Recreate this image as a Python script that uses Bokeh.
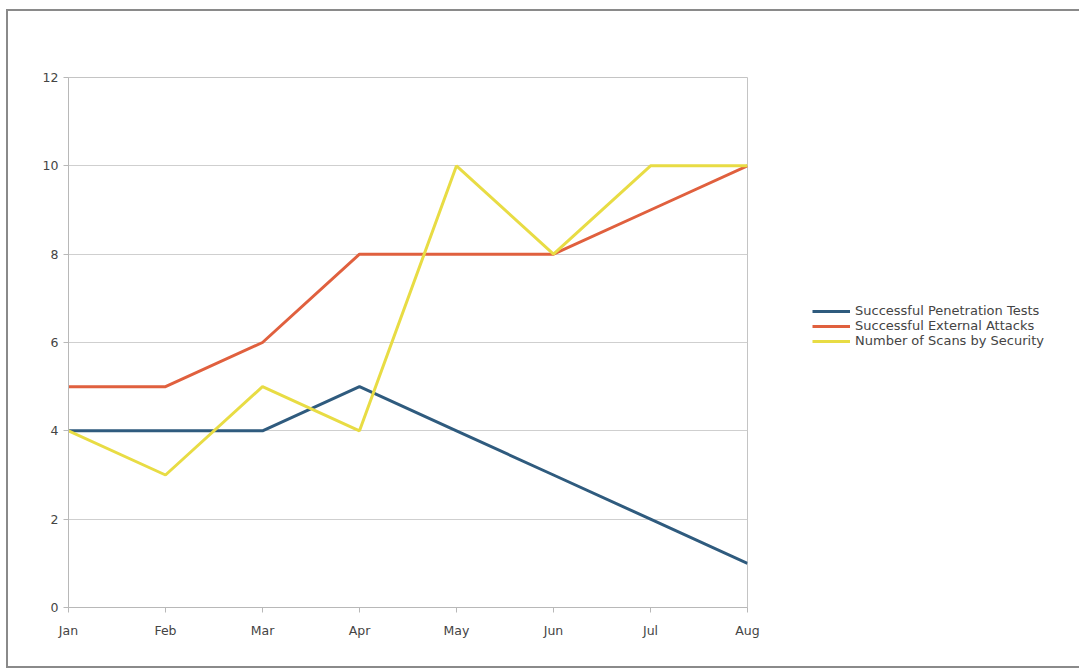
from bokeh.plotting import figure
from bokeh.models import Range1d, FixedTicker, Legend, LegendItem
from bokeh.embed import file_html
from bokeh.resources import INLINE

months = ["Jan", "Feb", "Mar", "Apr", "May", "Jun", "Jul", "Aug"]
pen_tests = [4, 4, 4, 5, 4, 3, 2, 1]
ext_attacks = [5, 5, 6, 8, 8, 8, 9, 10]
scans = [4, 3, 5, 4, 10, 8, 10, 10]
series_names = ["Successful Penetration Tests", "Successful External Attacks", "Number of Scans by Security"]
y_ticks = [0, 2, 4, 6, 8, 10, 12]

xs = list(range(len(months)))

p = figure(frame_width=679, frame_height=530,
           min_border_left=60, min_border_top=66, min_border_right=327, min_border_bottom=59,
           x_range=Range1d(0, len(months) - 1), y_range=Range1d(0, 12),
           output_backend="svg", toolbar_location=None)
p.styles = {"border": "2px solid #8a8a8a", "margin-left": "6px", "margin-top": "9px"}
p.background_fill_color = "white"
p.border_fill_color = "white"
p.outline_line_color = "#c4c4c4"
p.outline_line_width = 1

p.xaxis.ticker = FixedTicker(ticks=xs)
p.xaxis.major_label_overrides = {i: m for i, m in enumerate(months)}
p.yaxis.ticker = FixedTicker(ticks=y_ticks)
for ax in (p.xaxis, p.yaxis):
    ax.axis_line_color = "#b8b8b8"
    ax.major_tick_line_color = "#b8b8b8"
    ax.major_tick_in = 0
    ax.major_tick_out = 5
    ax.minor_tick_line_color = None
    ax.major_label_text_font = "DejaVu Sans"
    ax.major_label_text_font_size = "12.5px"
    ax.major_label_text_color = "#444444"
p.xaxis.major_label_standoff = 10
p.yaxis.major_label_standoff = 5

p.xgrid.grid_line_color = None
p.ygrid.grid_line_color = "#cfcfcf"
p.ygrid.grid_line_width = 1.2

colors = ["#2f5b7e", "#e0603e", "#e8dc44"]
renderers = []
for data, c in zip([pen_tests, ext_attacks, scans], colors):
    r = p.line(xs, data, line_color=c, line_width=3)
    renderers.append(r)

legend = Legend(items=[LegendItem(label=n, renderers=[r]) for n, r in zip(series_names, renderers)],
                location=(65, 259))
legend.background_fill_alpha = 0
legend.border_line_color = None
legend.padding = 0
legend.margin = 0
legend.spacing = 0
legend.glyph_width = 38
legend.glyph_height = 14
legend.label_height = 14
legend.label_standoff = 5
legend.label_text_font = "DejaVu Sans"
legend.label_text_font_size = "13px"
legend.label_text_color = "#444444"
p.add_layout(legend, "right")

open("out.html", "w").write(file_html(p, INLINE))
